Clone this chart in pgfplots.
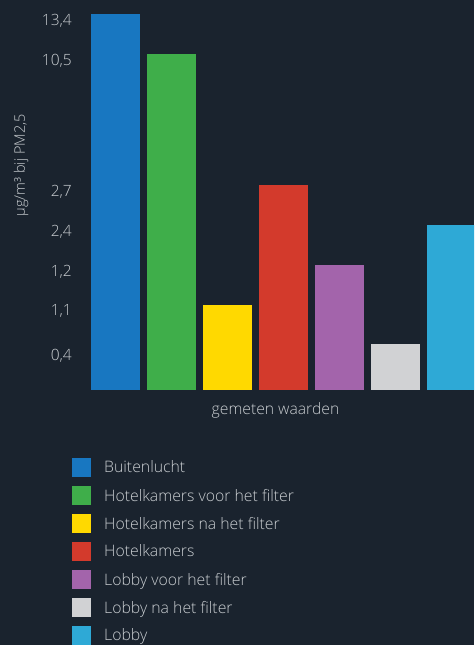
\documentclass[border=0pt]{standalone}
\usepackage{fontspec}
\setmainfont{Open Sans Light}
\usepackage{pgfplots}
\pgfplotsset{compat=1.18}
\definecolor{bg}{HTML}{1A232E}
\definecolor{txt}{HTML}{C9CDD1}
\definecolor{c1}{HTML}{1877C1}
\definecolor{c2}{HTML}{3FAE4A}
\definecolor{c3}{HTML}{FFD900}
\definecolor{c4}{HTML}{D33A2C}
\definecolor{c5}{HTML}{A364AB}
\definecolor{c6}{HTML}{D1D2D4}
\definecolor{c7}{HTML}{2EA9D6}
\begin{document}
\begin{tikzpicture}
\fill[bg] (0,0) rectangle (474pt,645pt);
\useasboundingbox (0,0) rectangle (474pt,645pt);
\begin{axis}[
  at={(84pt,255pt)}, anchor=south west,
  scale only axis, width=390pt, height=376pt,
  xmin=-0.5625, xmax=6.402, ymin=0, ymax=376,
  axis line style={draw=none}, tick style={draw=none},
  major tick length=0pt,
  xtick=\empty,
  ytick={34,79,118,158,198,329,369},
  yticklabels={{0,4},{1,1},{1,2},{2,4},{2,7},{10,5},{13,4}},
  /pgf/number format/assume math mode=true,
  yticklabel style={font=\fontsize{15.5}{18}\selectfont, text=txt, anchor=east, xshift=-12pt, inner sep=0pt},
  ylabel={µg/m³ bij PM2,5},
  ylabel style={at={(axis description cs:-0.1615,0.598)}, anchor=center, font=\fontsize{14.5}{16}\selectfont, text=txt},
  xlabel={gemeten waarden},
  xlabel style={at={(axis description cs:0.491,-0.0532)}, anchor=center, font=\fontsize{15.7}{18}\selectfont, text=txt},
  ybar, bar width=0.875, bar shift=0pt,
  every axis plot/.append style={draw=none},
  legend style={at={(axis description cs:-0.0308,-0.1809)}, anchor=north west,
    draw=none, fill=none, inner sep=0pt, row sep=9pt,
    font=\fontsize{15.8}{18}\selectfont, text=txt,
    nodes={inner sep=0pt, anchor=west},
    /tikz/every odd column/.style={column sep=13pt}},
  legend cell align=left,
  legend image code/.code={\fill[#1] (0pt,-9.5pt) rectangle (19pt,9.5pt);},
]
\addplot[fill=c1] coordinates {(0,376)};
\addplot[fill=c2] coordinates {(1,336)};
\addplot[fill=c3] coordinates {(2,85)};
\addplot[fill=c4] coordinates {(3,205)};
\addplot[fill=c5] coordinates {(4,125)};
\addplot[fill=c6] coordinates {(5,46)};
\addplot[fill=c7] coordinates {(6,165)};
\legend{Buitenlucht,Hotelkamers voor het filter,Hotelkamers na het filter,Hotelkamers,Lobby voor het filter,Lobby na het filter,Lobby}
\end{axis}
\end{tikzpicture}
\end{document}
